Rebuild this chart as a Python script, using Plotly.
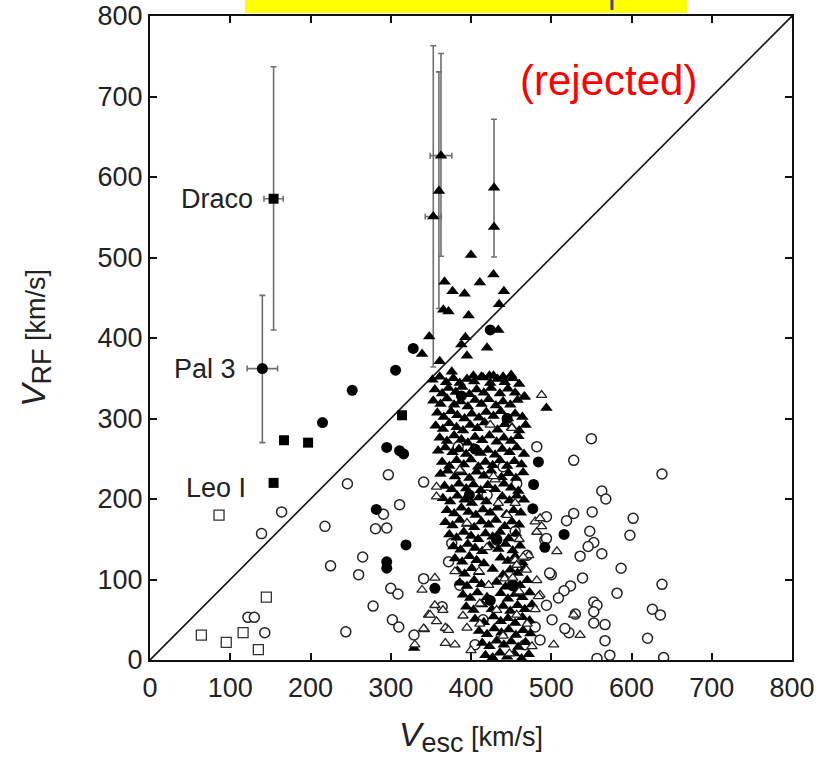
import plotly.graph_objects as go

# ---------------- data ----------------
# filled triangles
tri_f_x = [428.7, 400, 428, 411, 367, 377, 392, 441, 435, 365.5, 372, 397, 434, 348, 393, 388, 420, 339, 395, 361,
           376, 403, 413, 423, 428, 440, 450, 466, 494, 329,
           352, 361, 369, 378, 386, 395, 404, 415, 424, 433, 442, 452, 460,
           355, 364, 372, 381, 389, 398, 407, 416, 425, 436, 446, 455, 467,
           353, 362, 370, 379, 387, 396, 405, 413, 422, 431, 440, 449, 458,
           358, 366, 375, 383, 392, 401, 410, 419, 428, 437, 446, 455, 464,
           356, 365, 373, 382, 390, 399, 408, 417, 433, 442, 451, 460, 468,
           361, 370, 379, 388, 396, 405, 414, 423, 432, 441, 450, 459,
           359, 368, 377, 385, 394, 403, 412, 421, 430, 439, 448, 457, 466,
           364, 373, 382, 391, 400, 409, 418, 427, 436, 445, 454, 463,
           362, 371, 380, 389, 398, 407, 416, 425, 438, 447, 456, 465,
           367, 376, 385, 394, 403, 412, 421, 430, 441, 450, 459,
           365, 374, 383, 392, 401, 410, 419, 439, 448, 457, 466,
           370, 379, 388, 397, 406, 415, 424, 433, 444, 453, 462,
           368, 377, 386, 395, 404, 413, 422, 431, 442, 451, 460,
           373, 382, 391, 400, 409, 418, 427, 436, 447, 456,
           378, 387, 396, 405, 414, 423, 434, 443, 452, 461,
           380, 389, 398, 407, 416, 437, 446, 455, 464,
           383, 392, 401, 410, 427, 440, 449, 458, 467,
           386, 395, 404, 413, 432, 443, 452, 461, 470,
           390, 399, 408, 420, 437, 446, 455, 464, 473,
           394, 403, 414, 426, 440, 449, 458, 467, 476,
           405, 416, 428, 437, 446, 455, 464, 473,
           410, 420, 429, 438, 447, 456, 465, 474,
           414, 423, 432, 441, 450, 459, 468,
           418, 427, 436, 445, 454, 463, 472]
tri_f_y = [538, 503, 479, 469, 470, 458, 455, 458, 442, 435, 433, 428, 410, 402, 401, 392, 388, 380, 378, 371,
           358, 353, 352, 353, 353, 352, 354, 327, 313, 15,
           348, 352, 345, 350, 344, 349, 346, 351, 344, 349, 345, 350, 343,
           336, 331, 338, 333, 339, 330, 336, 332, 338, 331, 337, 332, 327,
           322, 318, 325, 317, 321, 315, 323, 318, 324, 316, 321, 317, 323,
           307, 302, 309, 304, 300, 306, 301, 308, 303, 309, 300, 306, 302,
           291, 287, 294, 289, 285, 292, 288, 295, 286, 293, 289, 285, 292,
           276, 272, 279, 274, 270, 277, 273, 279, 271, 276, 272, 278,
           260, 264, 258, 262, 256, 263, 257, 261, 255, 262, 258, 264, 256,
           246, 241, 248, 243, 249, 240, 246, 242, 248, 241, 247, 243,
           231, 235, 228, 233, 226, 234, 229, 235, 227, 232, 226, 233,
           216, 212, 219, 213, 218, 211, 217, 212, 219, 214, 210,
           201, 197, 204, 199, 195, 202, 197, 203, 198, 204, 199,
           186, 182, 189, 184, 180, 187, 183, 189, 181, 186, 183,
           171, 167, 174, 169, 165, 172, 168, 174, 166, 172, 168,
           156, 152, 159, 154, 150, 157, 153, 159, 151, 157,
           141, 137, 144, 139, 135, 142, 138, 144, 136, 142,
           126, 122, 129, 124, 120, 127, 123, 129, 121,
           111, 107, 114, 109, 113, 106, 112, 108, 114,
           96, 92, 99, 94, 97, 91, 98, 93, 99,
           81, 77, 84, 78, 83, 76, 82, 78, 84,
           66, 62, 69, 63, 67, 61, 68, 63, 69,
           51, 47, 54, 48, 52, 46, 53, 49,
           36, 32, 39, 34, 38, 31, 37, 33,
           21, 17, 24, 19, 23, 16, 22,
           6, 3, 9, 4, 8, 2, 7]

# open triangles
tri_o_x = [488, 424, 451, 455, 430, 434, 386, 357, 357, 482, 507, 482, 472, 486, 480, 503, 370, 368, 380, 411,
           422, 442, 432, 457, 455, 465, 339, 355, 347, 357, 342, 330, 368, 355, 365, 480, 536, 372, 341, 349,
           411, 476, 484, 469, 457, 452, 488, 486, 428, 528, 395, 400, 390, 440, 460, 420, 395, 445, 410, 460,
           380, 470, 448]
tri_o_y = [329, 292, 288, 195, 224, 195, 236, 203, 215, 159, 135, 99, 130, 81, 63, 19, 39, 21, 19, 70,
           93, 101, 62, 56, 124, 128, 87, 102, 56, 48, 38, 19, 40, 68, 62, 172, 31, 37, 39, 56,
           45, 17, 79, 112, 118, 102, 166, 176, 228, 56, 40, 12, 55, 30, 85, 140, 170, 180, 110, 150,
           110, 45, 8]

# filled circles
circ_f_x = [215, 328, 306, 252, 295, 311, 316, 282, 319, 295, 295, 484, 478, 477, 516, 492, 388, 424, 355, 424,
            405, 432, 398, 452, 445]
circ_f_y = [295, 387, 360, 335, 264, 260, 256, 187, 143, 122, 114, 246, 218, 188, 156, 140, 328, 410, 89, 74,
            262, 150, 205, 92, 300]

# open circles
circ_o_x = [139, 164, 246, 218, 225, 265, 260, 244, 278, 297, 291, 281, 295, 300, 309, 302, 310, 311, 341, 329,
            122, 130, 143, 384, 457, 482, 341, 550, 528, 638, 563, 568, 602, 598, 528, 519, 551, 548, 553, 546,
            563, 536, 587, 582, 539, 524, 516, 509, 500, 494, 492, 638, 626, 636, 620, 640, 553, 557, 553, 553,
            567, 567, 573, 557, 530, 522, 517, 501, 494, 480, 486, 494, 498, 405, 467, 415, 432, 386, 364, 376,
            372, 455, 440, 420, 470]
circ_o_y = [157, 184, 219, 166, 117, 128, 106, 35, 67, 230, 181, 163, 164, 89, 82, 50, 41, 193, 221, 31,
            53, 53, 34, 265, 219, 265, 101, 275, 248, 231, 210, 200, 176, 155, 182, 173, 184, 160, 146, 141,
            132, 129, 114, 83, 102, 92, 86, 77, 106, 178, 149, 94, 63, 56, 27, 3, 72, 68, 60, 46,
            44, 24, 6, 2, 57, 34, 39, 50, 68, 41, 25, 151, 108, 19, 19, 50, 149, 93, 66, 145,
            122, 160, 240, 205, 130]

# filled squares
sq_f_x = [154, 167, 197, 314]
sq_f_y = [220, 273, 270, 304]

# open squares
sq_o_x = [86, 64, 95, 116, 135, 145]
sq_o_y = [180, 31, 22, 34, 13, 78]

# points with error bars
err_sq_x = [154]          # Draco
err_sq_y = [573]
err_sq_yp = [164]
err_sq_ym = [163]
err_sq_xe = [12]

err_ci_x = [140]          # Pal 3
err_ci_y = [362]
err_ci_yp = [91]
err_ci_ym = [92]
err_ci_xe = [19]

err_tr_x = [353, 362.6, 360, 428.7]
err_tr_y = [551, 626.5, 582.6, 586.7]
err_tr_yp = [212, 127, 148, 85]
err_tr_ym = [187, 125, 146, 86]
err_tr_xe = [10, 13.5, 0, 0]

diag_x = [0, 800]
diag_y = [0, 800]

tick_vals = [0, 100, 200, 300, 400, 500, 600, 700, 800]
tick_text = ["0", "100", "200", "300", "400", "500", "600", "700", "800"]

labels = ["Draco", "Pal 3", "Leo I"]
label_x = [131, 110, 122]
label_y = [573, 362, 214]

# ---------------- figure ----------------
FONT = "Liberation Sans"
NARROW = "Liberation Sans Narrow, Arial Narrow, Liberation Sans"
ERRC = "#707070"
fig = go.Figure()

fig.add_trace(go.Scatter(x=diag_x, y=diag_y, mode="lines",
                         line=dict(color="#111", width=1.6), hoverinfo="skip"))

def err(arr_p, arr_m):
    return dict(type="data", array=arr_p, arrayminus=arr_m, symmetric=False,
                color=ERRC, thickness=1.6, width=3)

fig.add_trace(go.Scatter(x=err_tr_x, y=err_tr_y, mode="markers",
                         marker=dict(symbol="triangle-up", size=11, color="black"),
                         error_y=err(err_tr_yp, err_tr_ym),
                         error_x=dict(type="data", array=err_tr_xe, color=ERRC, thickness=1.6, width=3)))
fig.add_trace(go.Scatter(x=err_sq_x, y=err_sq_y, mode="markers",
                         marker=dict(symbol="square", size=10, color="black"),
                         error_y=err(err_sq_yp, err_sq_ym),
                         error_x=dict(type="data", array=err_sq_xe, color=ERRC, thickness=1.6, width=3)))
fig.add_trace(go.Scatter(x=err_ci_x, y=err_ci_y, mode="markers",
                         marker=dict(symbol="circle", size=11, color="black"),
                         error_y=err(err_ci_yp, err_ci_ym),
                         error_x=dict(type="data", array=err_ci_xe, color=ERRC, thickness=1.6, width=3)))

fig.add_trace(go.Scatter(x=circ_o_x, y=circ_o_y, mode="markers",
                         marker=dict(symbol="circle", size=10, color="white",
                                     line=dict(color="#222", width=1.5))))
fig.add_trace(go.Scatter(x=tri_f_x, y=tri_f_y, mode="markers",
                         marker=dict(symbol="triangle-up", size=11, color="black", line=dict(width=0))))
fig.add_trace(go.Scatter(x=tri_o_x, y=tri_o_y, mode="markers",
                         marker=dict(symbol="triangle-up", size=9, color="white",
                                     line=dict(color="#222", width=1.3))))
fig.add_trace(go.Scatter(x=circ_f_x, y=circ_f_y, mode="markers",
                         marker=dict(symbol="circle", size=11, color="black", line=dict(width=0))))
fig.add_trace(go.Scatter(x=sq_f_x, y=sq_f_y, mode="markers",
                         marker=dict(symbol="square", size=10, color="black")))
fig.add_trace(go.Scatter(x=sq_o_x, y=sq_o_y, mode="markers",
                         marker=dict(symbol="square", size=10, color="white",
                                     line=dict(color="#333", width=1.3))))

for t, lx, ly in zip(labels, label_x, label_y):
    fig.add_annotation(x=lx, y=ly, text=t, showarrow=False, xanchor="right", yanchor="middle",
                       font=dict(family=FONT, size=27, color="#222"))

fig.add_annotation(x=0.7135, y=0.9006, xref="paper", yref="paper", text="(rejected)",
                   showarrow=False, xanchor="center", yanchor="middle",
                   font=dict(family=FONT, size=42, color="#ff0000"))

fig.add_shape(type="rect", xref="paper", yref="paper", x0=0.148, x1=0.8364, y0=1.0047, y1=1.03,
              fillcolor="#ffff00", line=dict(width=0), layer="above")
fig.add_shape(type="line", xref="paper", yref="paper", x0=0.7196, x1=0.7196, y0=1.0093, y1=1.03,
              line=dict(color="#5b3a9f", width=3), layer="above")

axis_common = dict(range=[0, 800], tickvals=tick_vals, ticktext=tick_text, ticks="inside",
                   ticklen=7, tickwidth=1.5, tickcolor="#111", showline=True, linewidth=2.2,
                   linecolor="#111", mirror="ticks", showgrid=False, zeroline=False,
                   automargin=False,
                   tickfont=dict(family=NARROW, size=27, color="#222"))

fig.update_layout(
    width=822, height=758,
    margin=dict(l=150, r=30, t=16, b=98),
    paper_bgcolor="white", plot_bgcolor="white",
    showlegend=False,
    xaxis=dict(**axis_common, ticklabelstandoff=2,
               title=dict(text="<span style='font-size:34px'><i>V</i></span><sub><span style='font-size:27px'>esc</span></sub> [km/s]",
                          font=dict(family=NARROW, size=27, color="#222"), standoff=26)),
    yaxis=dict(**axis_common, ticklabelstandoff=0,
               title=dict(text="<span style='font-size:34px'><i>V</i></span><sub><span style='font-size:27px'>RF</span></sub> [km/s]",
                          font=dict(family=NARROW, size=27, color="#222"), standoff=44)),
)

fig.write_html("out.html")
